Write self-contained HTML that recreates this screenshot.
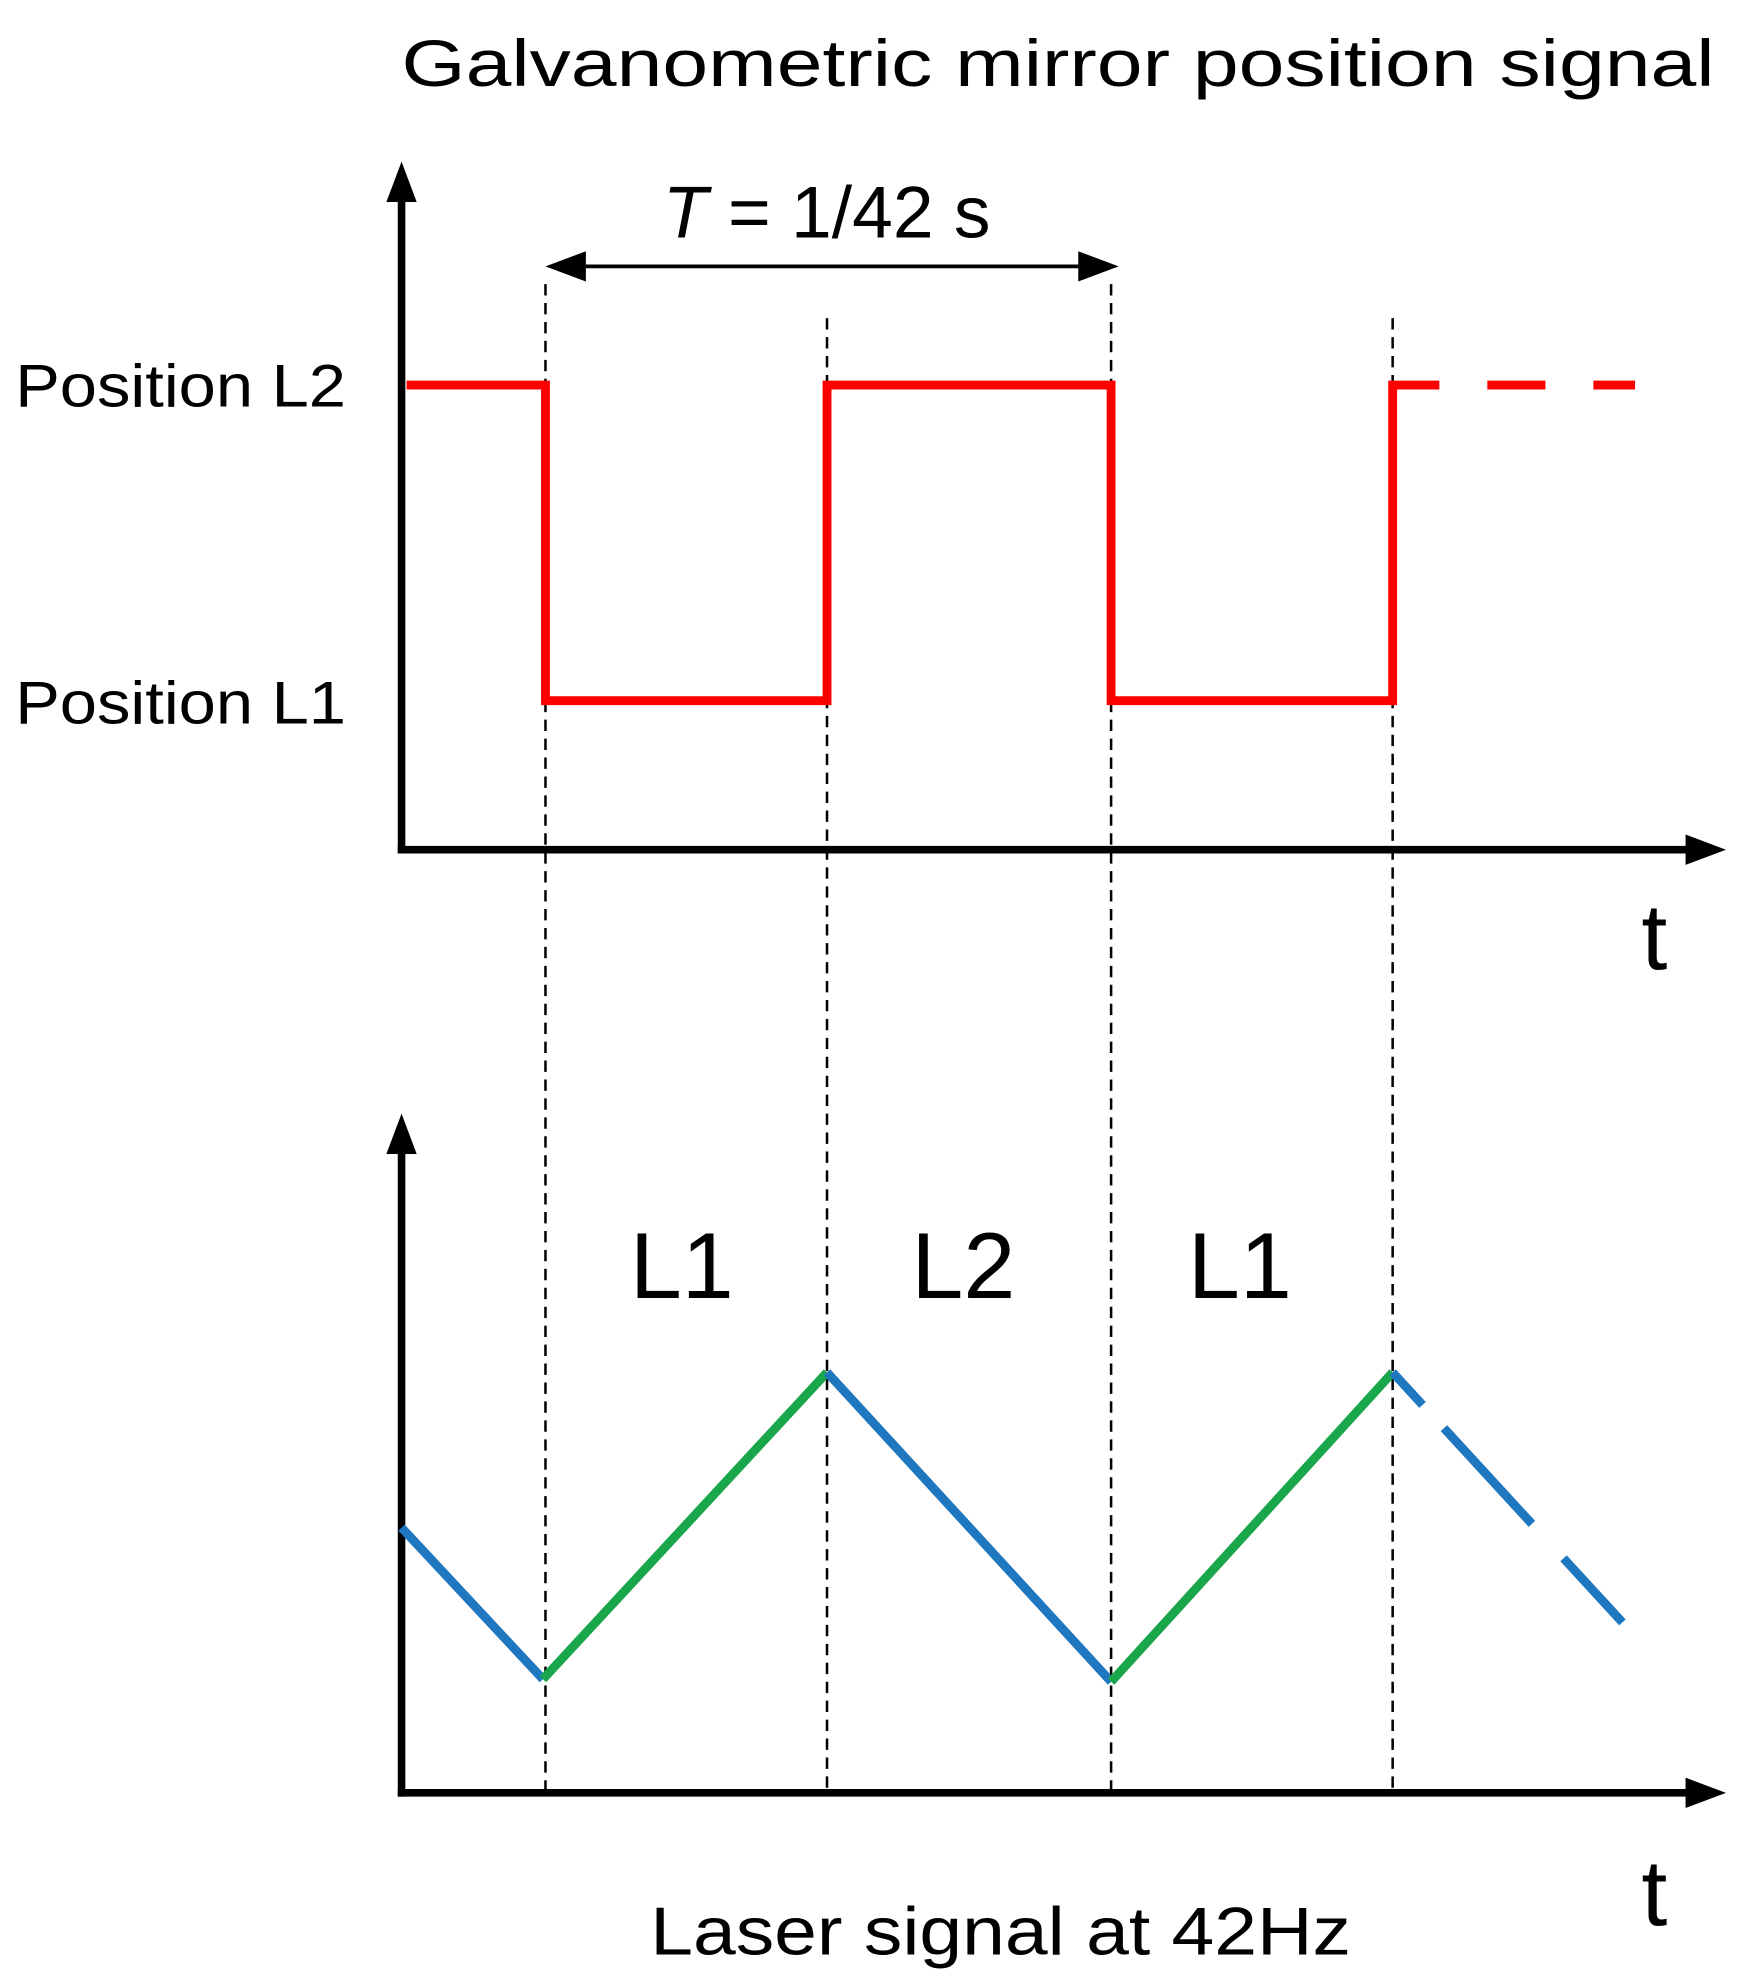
<!DOCTYPE html>
<html><head><meta charset="utf-8"><style>
html,body{margin:0;padding:0;background:#fff;}
svg{display:block;}
text{font-family:"Liberation Sans",sans-serif;fill:#000;}
</style></head><body>
<svg width="1750" height="1986" viewBox="0 0 1386 1573" xmlns="http://www.w3.org/2000/svg">
<text x="318" y="68" font-size="52" textLength="1040" lengthAdjust="spacingAndGlyphs">Galvanometric mirror position signal</text>
<line x1="318" y1="150" x2="318" y2="676" stroke="#000" stroke-width="6"/>
<polygon points="318,128 306,160 330,160" fill="#000"/>
<line x1="315" y1="673" x2="1345" y2="673" stroke="#000" stroke-width="6"/>
<polygon points="1367,673 1335,661 1335,685" fill="#000"/>
<text x="1300" y="768" font-size="74">t</text>
<g stroke="#000" stroke-width="2" stroke-dasharray="9,6">
<line x1="432" y1="225" x2="432" y2="1420"/>
<line x1="655" y1="252" x2="655" y2="1420"/>
<line x1="880" y1="225" x2="880" y2="1420"/>
<line x1="1103" y1="252" x2="1103" y2="1420"/>
</g>
<line x1="450" y1="211" x2="866" y2="211" stroke="#000" stroke-width="3"/>
<polygon points="432,211 464,199 464,223" fill="#000"/>
<polygon points="886,211 854,199 854,223" fill="#000"/>
<text x="525" y="188" font-size="58"><tspan font-style="italic">T</tspan> = 1/42 s</text>
<text x="12" y="322" font-size="48" textLength="262" lengthAdjust="spacingAndGlyphs">Position L2</text>
<text x="12" y="573" font-size="48" textLength="262" lengthAdjust="spacingAndGlyphs">Position L1</text>
<polyline points="322,305 432,305 432,555 655,555 655,305 880,305 880,555 1103,555 1103,305 1140,305" fill="none" stroke="#f00" stroke-width="7"/>
<line x1="1140" y1="305" x2="1295" y2="305" stroke="#f00" stroke-width="7" stroke-dasharray="0,38,46,38,33"/>
<line x1="318" y1="905" x2="318" y2="1423" stroke="#000" stroke-width="6"/>
<polygon points="318,882 306,914 330,914" fill="#000"/>
<line x1="315" y1="1420" x2="1345" y2="1420" stroke="#000" stroke-width="6"/>
<polygon points="1367,1420 1335,1408 1335,1432" fill="#000"/>
<text x="1300" y="1525" font-size="74">t</text>
<text x="540" y="1028" font-size="74" text-anchor="middle">L1</text>
<text x="763" y="1028" font-size="74" text-anchor="middle">L2</text>
<text x="982" y="1028" font-size="74" text-anchor="middle">L1</text>
<g fill="none" stroke-width="7">
<polyline points="318,1210 430,1330" stroke="#1f77c0"/>
<polyline points="430,1330 655,1087" stroke="#1aa64a"/>
<polyline points="655,1087 880,1332" stroke="#1f77c0"/>
<polyline points="880,1332 1103,1087" stroke="#1aa64a"/>
<line x1="1103" y1="1087" x2="1285" y2="1285" stroke="#1f77c0" stroke-dasharray="35,25,103,37,69,100"/>
</g>
<text x="515" y="1548" font-size="54" textLength="555" lengthAdjust="spacingAndGlyphs">Laser signal at 42Hz</text>
</svg>
</body></html>
